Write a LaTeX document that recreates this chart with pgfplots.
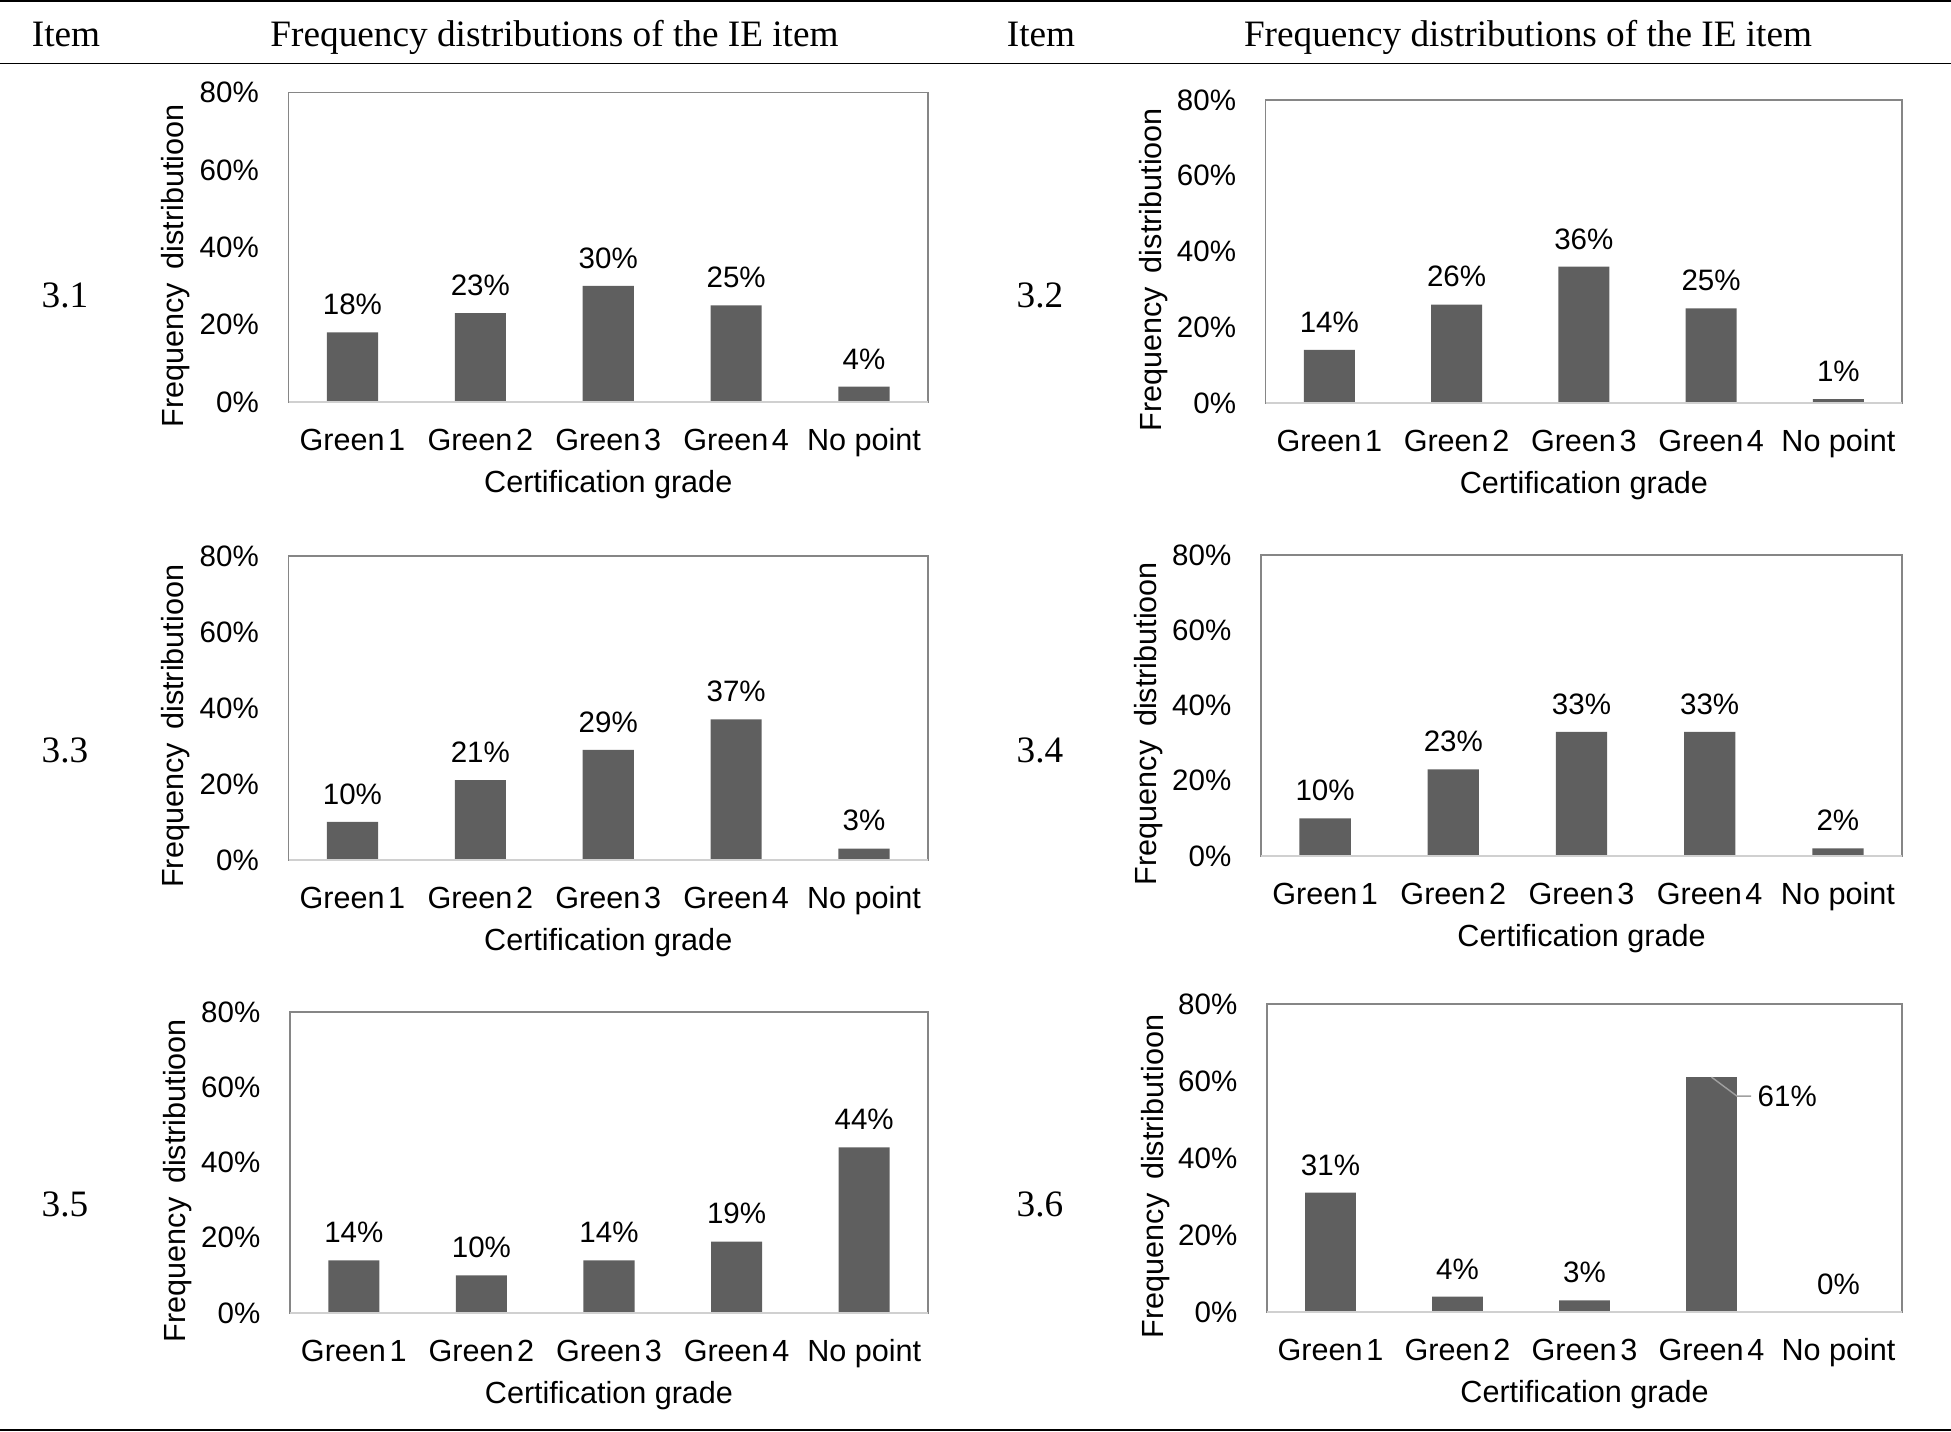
\documentclass[border=0pt]{standalone}
\usepackage{pgfplots}
\pgfplotsset{compat=1.18}
\usepackage{fontspec}
\setmainfont{Liberation Serif}
\newfontfamily\chartfont{Liberation Sans}

\definecolor{barfill}{RGB}{95,95,95}
\definecolor{framegray}{RGB}{134,134,134}
\definecolor{basegray}{RGB}{208,208,208}
\definecolor{leadergray}{RGB}{160,160,160}

\newcommand{\tickfont}{\chartfont\fontsize{8.4}{10}\selectfont}
\newcommand{\xtickfont}{\chartfont\fontsize{8.7}{10}\selectfont}
\newcommand{\labelfont}{\chartfont\fontsize{8.7}{10}\selectfont}
\newcommand{\headfont}{\fontsize{10.6}{12}\selectfont}

\pgfplotsset{
  grade chart/.style={
    scale only axis,
    anchor=south west,
    clip=false,
    xmin=-0.5, xmax=4.5,
    ymin=0, ymax=80,
    xtick={0,1,2,3,4},
    xticklabels={Green\kern.12em 1,Green\kern.12em 2,Green\kern.12em 3,Green\kern.12em 4,No point},
    ytick={0,20,40,60,80},
    yticklabels={0\%,20\%,40\%,60\%,80\%},
    major tick length=0pt,
    axis line style={draw=framegray, line width=0.4pt},
    xticklabel style={font=\xtickfont, anchor=base, yshift=-4.87mm, inner sep=0pt},
    yticklabel style={font=\tickfont, anchor=east, xshift=-2.9mm, inner sep=0pt},
    xlabel={Certification grade},
    xlabel style={font=\labelfont, at={(axis description cs:0.5,0)}, anchor=base, yshift=-9.1mm, inner sep=0pt},
    ylabel={Frequency\hspace{0.45em}distributioon},
    ylabel style={font=\labelfont, at={(axis description cs:-0.176,0.44)}, anchor=center, inner sep=0pt},
    ybar, bar width=0.4,
    point meta=explicit symbolic,
    nodes near coords,
    nodes near coords style={font=\tickfont, anchor=south, inner sep=0pt, yshift=1.66mm},
  },
}

% #1,#2: lower left corner (cm); #3,#4: plot area size (cm); #5: bars with labels
\newcommand{\gradechart}[5]{%
  \begin{axis}[grade chart, at={(#1cm,#2cm)}, width=#3cm, height=#4cm]
    \addplot[fill=barfill, draw=none] coordinates {#5};
    \draw[basegray, line width=0.5pt] (axis cs:-0.5,0) -- (axis cs:4.5,0);
  \end{axis}}

\begin{document}
\begin{tikzpicture}
\path[use as bounding box] (0,0) rectangle (19.51,14.32);

% table rules
\draw[line width=0.2mm] (0,14.31) -- (19.51,14.31);
\draw[line width=0.18mm] (0,13.685) -- (19.51,13.685);
\draw[line width=0.2mm] (0,0.015) -- (19.51,0.015);

% header row
\node[font=\headfont, anchor=base, inner sep=0pt] at (0.66,13.853) {Item};
\node[font=\headfont, anchor=base, inner sep=0pt] at (5.545,13.853) {Frequency distributions of the IE item};
\node[font=\headfont, anchor=base, inner sep=0pt] at (10.41,13.853) {Item};
\node[font=\headfont, anchor=base, inner sep=0pt] at (15.28,13.853) {Frequency distributions of the IE item};

% item numbers
\node[font=\headfont, inner sep=0pt] at (0.65,11.37) {3.1};
\node[font=\headfont, inner sep=0pt] at (10.40,11.37) {3.2};
\node[font=\headfont, inner sep=0pt] at (0.65,6.82) {3.3};
\node[font=\headfont, inner sep=0pt] at (10.40,6.82) {3.4};
\node[font=\headfont, inner sep=0pt] at (0.65,2.28) {3.5};
\node[font=\headfont, inner sep=0pt] at (10.40,2.28) {3.6};

% item 3.1
\gradechart{2.885}{10.30}{6.395}{3.095}{(0,18) [18\%] (1,23) [23\%] (2,30) [30\%] (3,25) [25\%] (4,4) [4\%]}
% item 3.2
\gradechart{12.657}{10.29}{6.363}{3.03}{(0,14) [14\%] (1,26) [26\%] (2,36) [36\%] (3,25) [25\%] (4,1) [1\%]}
% item 3.3
\gradechart{2.885}{5.72}{6.395}{3.04}{(0,10) [10\%] (1,21) [21\%] (2,29) [29\%] (3,37) [37\%] (4,3) [3\%]}
% item 3.4
\gradechart{12.61}{5.76}{6.41}{3.01}{(0,10) [10\%] (1,23) [23\%] (2,33) [33\%] (3,33) [33\%] (4,2) [2\%]}
% item 3.5
\gradechart{2.90}{1.19}{6.38}{3.01}{(0,14) [14\%] (1,10) [10\%] (2,14) [14\%] (3,19) [19\%] (4,44) [44\%]}
% item 3.6: the tallest bar carries its label on a leader line
\begin{axis}[grade chart, at={(12.67cm,1.20cm)}, width=6.35cm, height=3.08cm]
  \addplot[fill=barfill, draw=none] coordinates {(0,31) [31\%] (1,4) [4\%] (2,3) [3\%] (3,61) [{}] (4,0) [0\%]};
  \draw[basegray, line width=0.5pt] (axis cs:-0.5,0) -- (axis cs:4.5,0);
  \draw[leadergray, line width=0.4pt] (axis cs:3,61) -- ++(2.55mm,-1.9mm) -- ++(1.4mm,0mm)
    node[anchor=west, inner sep=0pt, xshift=0.6mm, font=\tickfont, text=black] {61\%};
\end{axis}
\end{tikzpicture}
\end{document}
